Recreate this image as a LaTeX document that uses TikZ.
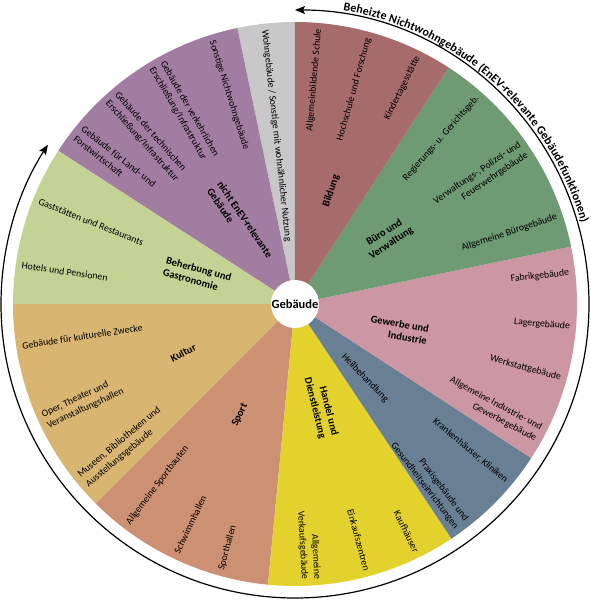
\documentclass[tikz,border=0pt]{standalone}
\usepackage{fontspec}
\setmainfont{Carlito}
\usepackage{xcolor}
\usetikzlibrary{arrows.meta,decorations.text}
\definecolor{bildungrot}{HTML}{A66B6B}
\definecolor{buerogruen}{HTML}{6E9A74}
\definecolor{gewerberosa}{HTML}{CC96A2}
\definecolor{heilblau}{HTML}{687F94}
\definecolor{handelgelb}{HTML}{E3D22E}
\definecolor{sportbraun}{HTML}{CC9172}
\definecolor{kulturocker}{HTML}{D8B571}
\definecolor{gastrogruen}{HTML}{C4D395}
\definecolor{lila}{HTML}{A27DA2}
\definecolor{wohngrau}{HTML}{C8C8C8}
\newcommand{\itemfont}{\fontsize{9.8}{12.5}\selectfont}
\newcommand{\catfont}{\fontsize{10.5}{12.5}\selectfont\bfseries}
\tikzset{
  ritem/.style={anchor=east, inner sep=0pt, align=right, font=\itemfont},
  litem/.style={anchor=west, inner sep=0pt, align=left, font=\itemfont},
  rcat/.style={inner sep=0pt, align=right, font=\catfont},
  lcat/.style={inner sep=0pt, align=left, font=\catfont},
  hub/.style={
    circle, fill=white, inner sep=0pt, minimum size=48pt,
    font=\fontsize{12.5}{14}\selectfont\bfseries
  },
  arcline/.style={
    {Stealth[length=10pt,width=8pt,inset=2pt]}-{Stealth[length=10pt,width=8pt,inset=2pt]},
    line width=1.2pt, draw=black
  },
}

\begin{document}
\begin{tikzpicture}[x=1pt, y=1pt]
  \fill[white] (-295,-296) rectangle (296,304);
  \useasboundingbox (-295,-296) rectangle (296,304);
  % sectors
  \foreach \a/\b/\col in {90/101.8/wohngrau, 101.8/147.1/lila, 147.1/180/gastrogruen,
      180/225.1/kulturocker, 225.1/264.5/sportbraun, 264.5/303.7/handelgelb,
      303.7/326.9/heilblau, 326.9/371.75/gewerberosa, 11.75/57/buerogruen, 57/90/bildungrot}
    \fill[fill=\col] (0,0) -- (\a:282) arc[start angle=\a, end angle=\b, radius=282pt] -- cycle;
  \node[hub] (gebaeude) at (0,0) {Gebäude};

  % Bildung
  \node[rcat, rotate=72] (bildung) at (72.3:118.6) {Bildung};
  \node[ritem, rotate=85.1] (schule) at (85.1:276) {Allgemeinbildende Schule};
  \node[ritem, rotate=74.6] (hochschule) at (74.6:276) {Hochschule und Forschung};
  \node[ritem, rotate=63.6] (kita) at (63.6:276) {Kindertagesstätte};
  % Buero
  \node[inner sep=0pt, align=center, font=\catfont, rotate=33] (verwaltung) at (35.4:114) {Büro und\\Verwaltung};
  \node[ritem, rotate=48.6] (regierung) at (48.6:276) {Regierungs- u. Gerichtsgeb.};
  \node[ritem, rotate=34.1] (polizei) at (34.1:276) {Verwaltungs-, Polizei- und\\Feuerwehrgebäude};
  \node[ritem, rotate=18.4] (buero) at (18.4:276) {Allgemeine Bürogebäude};
  % Gewerbe
  \node[rcat, rotate=-10] (gewerbe) at (-14:107) {Gewerbe und\\Industrie};
  \node[ritem, rotate=6.5] (fabrik) at (6.5:276) {Fabrikgebäude};
  \node[ritem, rotate=-4.7] (lager) at (-4.7:276) {Lagergebäude};
  \node[ritem, rotate=-15.5] (werkstatt) at (-15.5:276) {Werkstattgebäude};
  \node[ritem, rotate=-28] (industrie) at (-28:276) {Allgemeine Industrie- und\\Gewerbegebäude};
  % Heilbehandlung
  \node[inner sep=0pt, font=\itemfont, rotate=-46] (heil) at (-46.6:102) {Heilbehandlung};
  \node[ritem, rotate=-39.9] (klinik) at (-39.9:276) {Krankenhäuser, Kliniken};
  \node[ritem, rotate=-52.9] (praxis) at (-52.9:276) {Praxisgebäude und\\Gesundheitseinrichtungen};
  % Handel
  \node[rcat, rotate=-76] (handel) at (-75.8:106) {Handel und\\Dienstleistung};
  \node[ritem, rotate=-63.9] (kaufhaus) at (-63.9:276) {Kaufhäuser};
  \node[ritem, rotate=-74.9] (einkauf) at (-74.9:276) {Einkaufszentren};
  \node[ritem, rotate=-86.7] (verkauf) at (-86.7:276) {Allgemeine\\Verkaufsgebäude};
  % Sport
  \node[lcat, rotate=64] (sport) at (243.6:124) {Sport};
  \node[litem, rotate=52.8] (sportbau) at (232.8:276) {Allgemeine Sportbauten};
  \node[litem, rotate=64.6] (schwimm) at (244.6:276) {Schwimmhallen};
  \node[litem, rotate=74.5] (sporthalle) at (254.5:276) {Sporthallen};
  % Kultur
  \node[lcat, rotate=27] (kultur) at (203.6:122) {Kultur};
  \node[litem, rotate=8.7] (kulturzweck) at (188.7:276) {Gebäude für kulturelle Zwecke};
  \node[litem, rotate=25] (oper) at (205:276) {Oper, Theater und\\Veranstaltungshallen};
  \node[litem, rotate=39.8] (museum) at (219.8:276) {Museen, Bibliotheken und\\Ausstellungsgebäude};
  % Gastronomie
  \node[lcat, rotate=-15] (gastro) at (163.5:102) {Beherbung und\\Gastronomie};
  \node[litem, rotate=-21.9] (gaststaette) at (158.1:276) {Gaststätten und Restaurants};
  \node[litem, rotate=-8] (hotel) at (172:276) {Hotels und Pensionen};
  % nicht EnEV-relevant
  \node[lcat, rotate=-56] (nichtenev) at (124.2:98) {nicht EnEV-relevante\\Gebäude};
  \node[litem, rotate=-72.5] (sonstige) at (107.5:276) {Sonstige Nichtwohngebäude};
  \node[litem, rotate=-60] (verkehr) at (120:276) {Gebäude der verkehrlichen\\Erschließung/Infrastruktur};
  \node[litem, rotate=-48.4] (technik) at (131.6:276) {Gebäude der technischen\\Erschließung/Infrastruktur};
  \node[litem, rotate=-38.4] (landwirt) at (141.6:276) {Gebäude für Land- und\\Forstwirtschaft};
  % Wohngebaeude
  \node[litem, rotate=-83.7] (wohn) at (96.3:276) {Wohngebäude / Sonstige mit wohnähnlicher Nutzung};

  % EnEV arc
  \coordinate (arcstart) at (90:294);
  \draw[arcline] (arcstart) arc[start angle=90, end angle=-212.8, radius=294pt];
  \path[decorate, decoration={text along path, raise=3.5pt,
      text={|\fontsize{12}{14}\selectfont\bfseries|Beheizte Nichtwohngebäude (EnEV-relevante Gebäudefunktionen)}}]
    (80.7:294) arc[start angle=80.7, end angle=0, radius=294pt];
\end{tikzpicture}
\end{document}
